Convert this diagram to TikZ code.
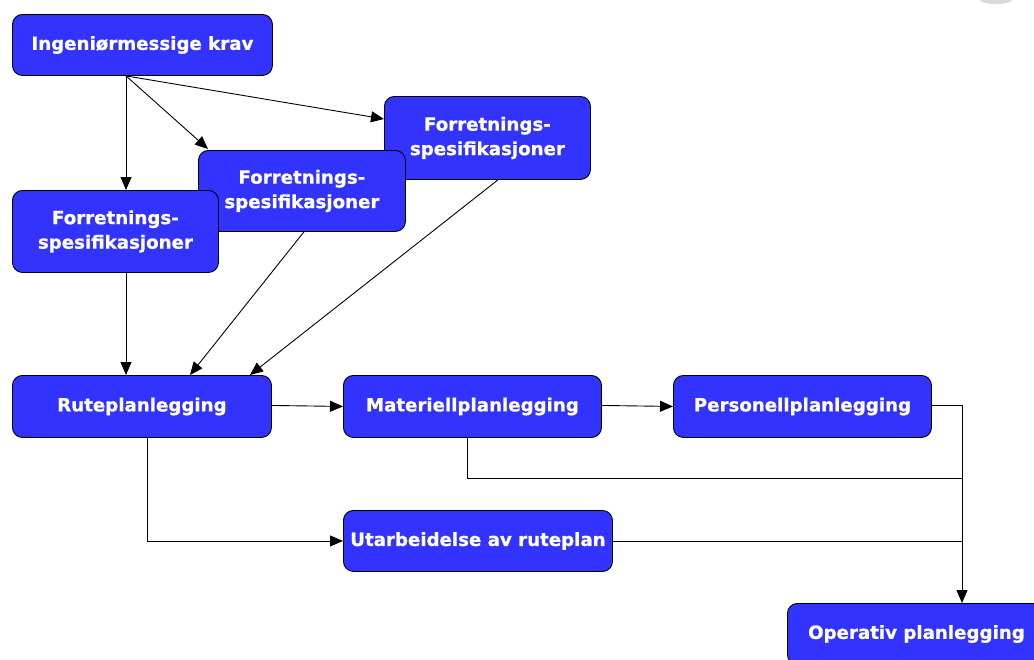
\documentclass[tikz,border=0pt]{standalone}
\usepackage{fontspec}
\setmainfont{DejaVu Sans}
\newfontfamily\boxfont[BoldFeatures={FakeBold=0.8}]{DejaVu Sans}
\usetikzlibrary{arrows.meta,calc}
\definecolor{boxblue}{RGB}{51,51,255}
\tikzset{
  box/.style={draw=black, line width=0.9pt, fill=boxblue, rounded corners=10pt,
    text=white, font=\boxfont\bfseries\fontsize{18.2}{24.5}\selectfont, align=center,
    anchor=north west, inner sep=0pt},
  conn/.style={line width=0.9pt, draw=black},
  arr/.style={conn, -{Triangle[length=13pt,width=11pt]}}
}
\begin{document}
\begin{tikzpicture}[x=1pt,y=-1pt]
\useasboundingbox (0,0) rectangle (1034,659);
\begin{scope}
\clip (0,0) rectangle (1034,659);
\fill[gray!30] (996,-1) ellipse [x radius=17pt, y radius=5pt];
\node[box, minimum width=260pt, minimum height=61pt] (ing) at (12,14) {Ingeniørmessige krav};
\node[box, minimum width=206pt, minimum height=83pt] (f3) at (384,96) {Forretnings-\\spesifikasjoner};
\node[box, minimum width=207pt, minimum height=81pt] (f2) at (198,150) {Forretnings-\\spesifikasjoner};
\node[box, minimum width=206pt, minimum height=82pt] (f1) at (12,190) {Forretnings-\\spesifikasjoner};
\node[box, minimum width=259pt, minimum height=62pt] (rute) at (12,375) {Ruteplanlegging};
\node[box, minimum width=258pt, minimum height=62pt] (mat) at (343,375) {Materiellplanlegging};
\node[box, minimum width=258pt, minimum height=62pt] (pers) at (673,375) {Personellplanlegging};
\node[box, minimum width=269pt, minimum height=61pt] (utarb) at (343,510) {Utarbeidelse av ruteplan};
\node[box, minimum width=258pt, minimum height=61pt] (oper) at (787,603) {Operativ planlegging};
\end{scope}
% top fan-out
\coordinate (src) at ([xshift=114pt]ing.south west);
\draw[arr] (src) -- (src |- f1.north);
\draw[arr] (src) -- ([xshift=10pt,yshift=1pt]f2.north west);
\draw[arr] (src) -- ([yshift=-23pt]f3.north west);
% into Ruteplanlegging
\draw[arr] (f1.south -| src) -- (rute.north -| src);
\draw[arr] ([xshift=-102pt]f2.south east) -- ([xshift=178pt]rute.north west);
\draw[arr] ([xshift=-93pt]f3.south east) -- ([xshift=238pt]rute.north west);
% horizontal chain
\draw[arr] ([yshift=1pt]rute.east) -- (mat.west);
\draw[arr] ([yshift=1pt]mat.east) -- (pers.west);
% collector line to Operativ planlegging
\coordinate (bus) at ([xshift=175pt]oper.north west);
\draw[conn] ([yshift=1pt]pers.east) -- ([yshift=1pt]bus |- pers.east);
\draw[arr] ([yshift=1pt]bus |- pers.east) -- (bus);
\draw[conn] ([xshift=124pt]mat.south west) |- (bus |- 0,478);
\draw[arr] ([xshift=135pt]rute.south west) |- (utarb.west);
\draw[conn] (utarb.east) -- (bus |- utarb.east);
\end{tikzpicture}
\end{document}
